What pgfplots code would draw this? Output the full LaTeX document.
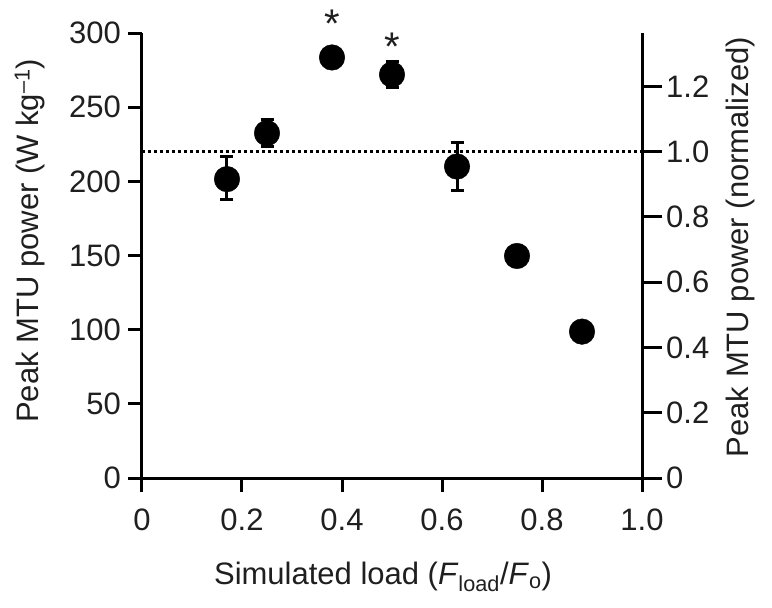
\documentclass[border=0pt]{standalone}
\usepackage{fontspec}
\setmainfont{Liberation Sans}
\usepackage{pgfplots}
\usepackage{pgfplotstable}
\pgfplotsset{compat=1.18}
\pgfplotstableread{
x y ep em
0.17 201.5 15 14
0.25 232.5 9 9
0.38 283.5 0 0
0.50 272 9 9
0.63 210 16 16.5
0.75 149.7 0 0
0.88 98.7 0 0
}\datatab
\newcommand{\bigf}{\fontsize{31}{37}\selectfont}
\begin{document}
\begin{tikzpicture}
\begin{axis}[
  scale only axis, width=500pt, height=445pt,
  xmin=0, xmax=1, ymin=0, ymax=300,
  axis x line*=bottom, axis y line*=left,
  axis line style={line width=3pt, -},
  tick style={line width=3pt, black},
  major tick style={line width=3pt, black},
  tick align=outside,
  major tick length=14pt,
  xtick={0,0.2,0.4,0.6,0.8,1.0},
  xticklabels={0,0.2,0.4,0.6,0.8,1.0},
  ytick={0,50,100,150,200,250,300},
  /pgf/number format/assume math mode=true,
  tick label style={font=\bigf, text=black!88},
  yticklabel style={anchor=east, inner sep=0pt, xshift=-7pt},
  xticklabel style={anchor=north, inner sep=0pt, yshift=-17pt},
  label style={font=\bigf, text=black!88},
  xlabel={Simulated load (\textit{F}\textsubscript{load}/\textit{F}\textsubscript{o})},
  ylabel={Peak MTU power (W kg\textsuperscript{–1})},
  xlabel style={at={(axis description cs:0.482,-0.222)}, anchor=center},
  ylabel style={at={(axis description cs:-0.224,0.533)}, anchor=center},
  clip=false,
]
\addplot[black, line width=3pt, dash pattern=on 3pt off 3pt, forget plot] coordinates {(0,220) (1,220)};
\addplot[only marks, mark=*, mark size=12.8pt, black,
  error bars/.cd, y dir=both, y explicit,
  error bar style={line width=3pt, black},
  error mark options={rotate=90, mark size=6.5pt, line width=3pt}]
  table[x=x, y=y, y error plus=ep, y error minus=em] {\datatab};
\node[font=\fontsize{40}{40}\selectfont, text=black!88] at (axis cs:0.38,306.5) {*};
\node[font=\fontsize{40}{40}\selectfont, text=black!88] at (axis cs:0.50,291) {*};
\coordinate (bl) at (axis description cs:-0.284,-0.2899);
\coordinate (tr) at (axis description cs:1.26,1.0742);
\end{axis}
\begin{axis}[
  scale only axis, width=500pt, height=445pt,
  xmin=0, xmax=1, ymin=0, ymax=1.363636,
  axis x line=none, axis y line*=right,
  axis line style={line width=3pt, -},
  tick style={line width=3pt, black},
  major tick style={line width=3pt, black},
  tick align=outside,
  major tick length=20pt,
  ytick={0,0.2,0.4,0.6,0.8,1.0,1.2},
  yticklabels={0,0.2,0.4,0.6,0.8,1.0,1.2},
  /pgf/number format/assume math mode=true,
  tick label style={font=\bigf, text=black!88},
  yticklabel style={anchor=west, inner sep=0pt, xshift=4pt},
  label style={font=\bigf, text=black!88},
  ylabel={Peak MTU power (normalized)},
  ylabel style={at={(axis description cs:1.196,0.519)}, anchor=center},
]
\end{axis}
\pgfresetboundingbox
\path[use as bounding box] (bl) rectangle (tr);
\end{tikzpicture}
\end{document}
